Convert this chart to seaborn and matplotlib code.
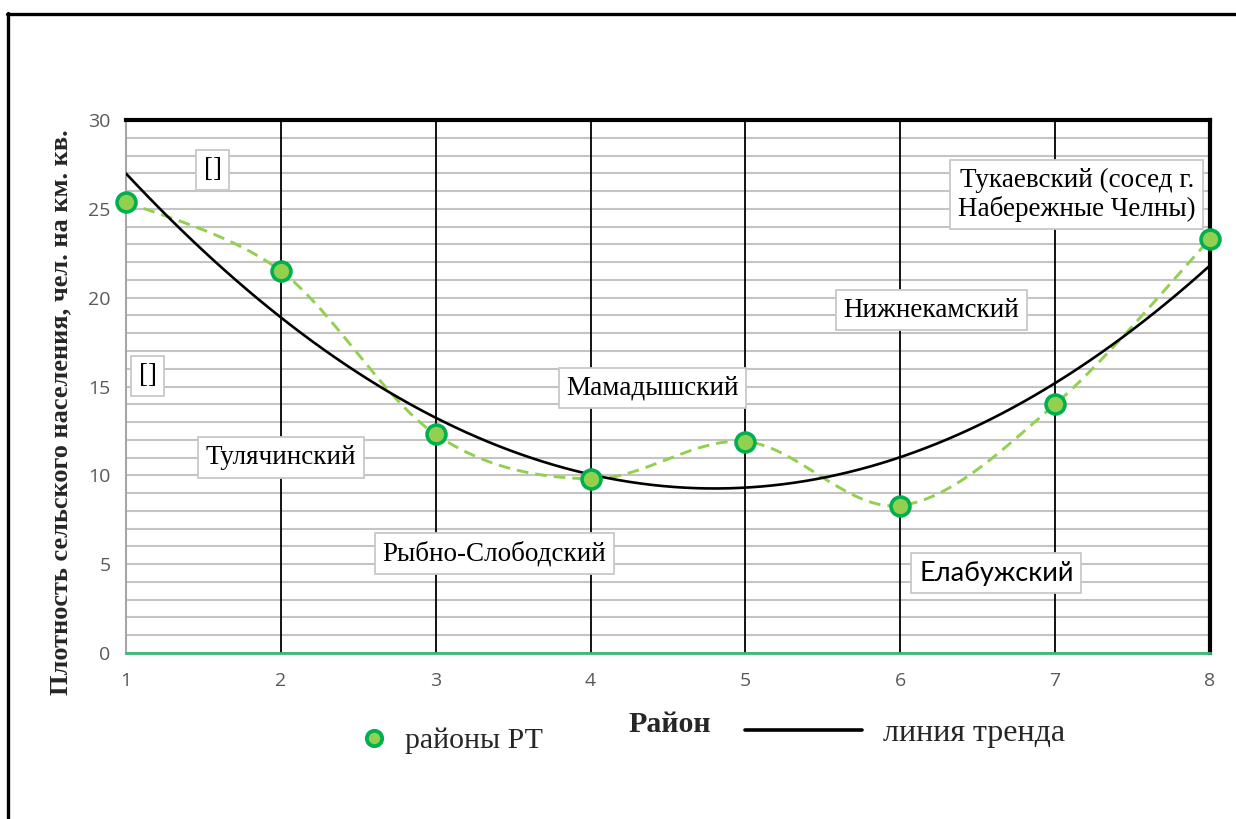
import numpy as np
import pandas as pd
import matplotlib.pyplot as plt
import seaborn as sns
from matplotlib.lines import Line2D

# values
districts = [1, 2, 3, 4, 5, 6, 7, 8]
density = [25.4, 21.5, 12.3, 9.8, 11.9, 8.3, 14.0, 23.3]
y_ticks = [0, 5, 10, 15, 20, 25, 30]

# district captions: text, x, y, font
captions = [
    ("[]", 1.56, 27.2, "Liberation Serif"),
    ("[]", 1.14, 15.6, "Liberation Serif"),
    ("Тулячинский", 2.0, 11.0, "Liberation Serif"),
    ("Рыбно-Слободский", 3.38, 5.6, "Liberation Serif"),
    ("Мамадышский", 4.4, 14.9, "Liberation Serif"),
    ("Нижнекамский", 6.2, 19.3, "Liberation Serif"),
    ("Елабужский", 6.62, 4.5, "Lato"),
    ("Тукаевский (сосед г.\nНабережные Челны)", 7.14, 25.8, "Liberation Serif"),
]

df = pd.DataFrame({"district": districts, "density": density})

sns.set_style("white")
plt.rcParams["font.family"] = ["Liberation Serif", "DejaVu Sans"]

POINT_FACE = "#92D050"
POINT_EDGE = "#00B050"


def smooth_line(xs, ys, n=40):
    # Excel-style smoothed line: Catmull-Rom bezier through the points
    p = np.column_stack([xs, ys]).astype(float)
    out = []
    for i in range(len(p) - 1):
        p0 = p[i - 1] if i > 0 else p[i]
        p1, p2 = p[i], p[i + 1]
        p3 = p[i + 2] if i + 2 < len(p) else p[i + 1]
        c1 = p1 + (p2 - p0) / 6
        c2 = p2 - (p3 - p1) / 6
        t = np.linspace(0, 1, n)[:, None]
        seg = ((1 - t) ** 3 * p1 + 3 * (1 - t) ** 2 * t * c1
               + 3 * (1 - t) * t ** 2 * c2 + t ** 3 * p2)
        out.append(seg if i == 0 else seg[1:])
    out = np.vstack(out)
    return out[:, 0], out[:, 1]


fig = plt.figure(figsize=(12.36, 8.19), dpi=100)
ax = fig.add_axes([126 / 1236, 1 - 653 / 819, (1210 - 126) / 1236, (653 - 120) / 819])

ax.set_xlim(1, 8)
ax.set_ylim(0, 30)
ax.set_xticks(districts)
ax.set_yticks(y_ticks)
ax.set_yticks(np.arange(0, 31, 1), minor=True)
ax.grid(axis="y", which="both", color="#C4C4C4", lw=1.5, zorder=0)
ax.set_axisbelow(True)
# black vertical lines sit on top of the grey grid
ax.vlines(districts[1:-1], 0, 30, color="black", lw=1.3, zorder=1.5)

sx, sy = smooth_line(df["district"], df["density"])
ax.plot(sx, sy, color=POINT_FACE, lw=2.1, dashes=(4, 2.4), zorder=3)

sns.regplot(data=df, x="district", y="density", order=2, ci=None, scatter=False,
            line_kws={"color": "black", "lw": 1.9, "zorder": 4}, ax=ax)

sns.scatterplot(data=df, x="district", y="density", s=185, color=POINT_FACE,
                edgecolor=POINT_EDGE, linewidth=2.6, zorder=6, clip_on=False, ax=ax)

ax.set_xlim(1, 8)
ax.set_ylim(0, 30)

for side in ["top", "right"]:
    ax.spines[side].set_color("black")
    ax.spines[side].set_linewidth(3)
ax.spines["left"].set_color("#A6A6A6")
ax.spines["left"].set_linewidth(1.5)
ax.spines["bottom"].set_color("#3CB878")
ax.spines["bottom"].set_linewidth(2)
ax.spines["bottom"].set_zorder(5)

ax.tick_params(axis="y", which="major", length=6, width=1, color="#A6A6A6",
               labelsize=14, labelcolor="#595959", pad=5)
ax.tick_params(axis="y", which="minor", length=0)
ax.tick_params(axis="x", length=5, width=1, color="#3CB878",
               labelsize=14, labelcolor="#595959", pad=9)
for lab in ax.get_xticklabels() + ax.get_yticklabels():
    lab.set_family("Open Sans")

ax.set_xlabel("")
ax.set_ylabel("Плотность сельского населения, чел. на км. кв.",
              fontsize=19, fontweight="bold")
ax.yaxis.set_label_coords((72 - 126) / 1084, (653 - 412) / 533)

for text, cx, cy, fam in captions:
    ax.text(cx, cy, text, ha="center", va="center", fontsize=19.5, family=fam,
            color="black", zorder=7, linespacing=1.15,
            bbox=dict(boxstyle="square,pad=0.28", fc="white", ec="#C8C8C8", lw=1.3))

fig.text(670 / 1236, 1 - 724 / 819, "Район", ha="center", va="center",
         fontsize=21.5, fontweight="bold")

pts_handle = Line2D([], [], marker="o", ls="none", markersize=11,
                    markerfacecolor=POINT_FACE, markeredgecolor=POINT_EDGE,
                    markeredgewidth=2.8)
trend_handle = Line2D([], [], color="black", lw=2.6)
fig.legend(handles=[pts_handle], labels=["районы РТ"], loc="center left",
           bbox_to_anchor=(356 / 1236, 1 - 741 / 819), frameon=False,
           fontsize=21.5, handletextpad=0.45, handlelength=1.2,
           borderpad=0, borderaxespad=0)
fig.legend(handles=[trend_handle], labels=["линия тренда"], loc="center left",
           bbox_to_anchor=(745 / 1236, 1 - 733 / 819), frameon=False,
           fontsize=23, handlelength=3.65, handletextpad=0.68,
           borderpad=0, borderaxespad=0)

# outer frame of the picture (top and left edges)
fig.add_artist(Line2D([8 / 1236, 8 / 1236], [0, 1 - 13 / 819], color="black",
                      lw=2.4, transform=fig.transFigure))
fig.add_artist(Line2D([7 / 1236, 1], [1 - 13.5 / 819, 1 - 13.5 / 819], color="black",
                      lw=2.4, transform=fig.transFigure))

fig.savefig("out.png", dpi=100, facecolor="white")
